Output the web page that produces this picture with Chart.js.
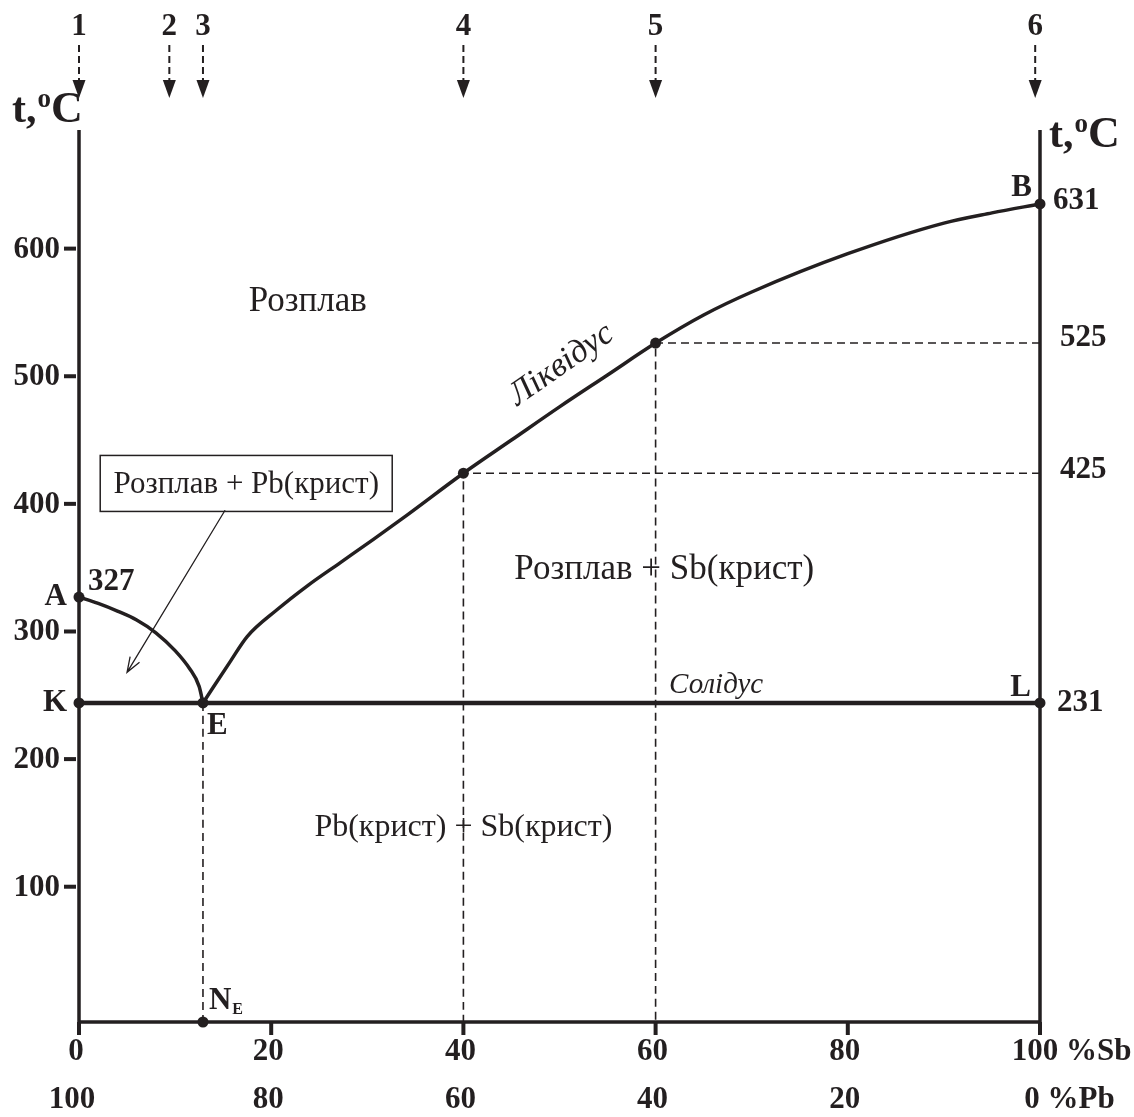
<!DOCTYPE html>
<html>
<head>
<meta charset="utf-8">
<title>Діаграма стану Pb–Sb</title>
<script src="https://cdn.jsdelivr.net/npm/chart.js@4.4.1/dist/chart.umd.min.js"></script>
<style>
  html, body { margin: 0; padding: 0; background: #fff; }
  #wrap { width: 1134px; height: 1117px; }
</style>
</head>
<body>
<div id="wrap"><canvas id="diagram" width="1134" height="1117"></canvas></div>
<script>
// axis ticks
const sbTicks = [0, 20, 40, 60, 80, 100];     // % Sb
const pbTicks = [100, 80, 60, 40, 20, 0];     // % Pb
const tempTicks = [100, 200, 300, 400, 500, 600];

// liquidus A-E (Pb side)
const liqAE_x = [0, 2, 4, 6, 8, 10, 11.5, 12.5, 12.9];
const liqAE_t = [327, 322, 316, 309, 299, 285, 271, 257, 244];

// liquidus E-B (Sb side)
const liqEB_x = [12.9, 15.7, 17.5, 20.6, 23.8, 27.2, 30.6, 34.1, 40, 45, 50, 55, 60, 65, 70, 80, 90, 95, 100];
const liqEB_t = [244, 276, 296, 317, 336, 354, 372, 391, 424, 450, 476, 501, 526, 548, 566, 596, 620, 628, 635];

// solidus K-L
const solidus_x = [0, 100];
const solidus_t = [244, 244];

// key points on the diagram
const point_x = [0, 0, 12.9, 100, 100, 12.9, 40, 60];
const point_t = [327, 244, 244, 635, 244, -6, 424, 526];

// alloys 1..6 (arrows on top)
const alloyNames = ['1', '2', '3', '4', '5', '6'];
const alloy_x = [0, 9.4, 12.9, 40, 60, 99.5];

const tMin = -6, tMax = 700, axisTop = 693;
const INK = '#231f20';
const SERIF = '"Liberation Serif", "Times New Roman", serif';

const toXY = (xs, ys) => xs.map((v, i) => ({ x: v, y: ys[i] }));

function lineSet(data, width, dash, mode) {
    return {
        data: data,
        borderColor: INK,
        borderWidth: width,
        borderDash: dash || [],
        pointRadius: 0,
        fill: false,
        clip: false,
        cubicInterpolationMode: mode || 'monotone'
    };
}

function text(ctx, str, x, y, font, align) {
    ctx.font = font;
    ctx.textAlign = align || 'center';
    ctx.textBaseline = 'middle';
    ctx.fillText(str, x, y);
}

function drawTUnit(ctx, x, base) {
    ctx.textBaseline = 'alphabetic';
    ctx.textAlign = 'left';
    ctx.font = 'bold 42px ' + SERIF;
    ctx.fillText('t,', x, base);
    let w = ctx.measureText('t,').width;
    ctx.font = 'bold 27px ' + SERIF;
    ctx.fillText('o', x + w + 1, base - 15);
    let w2 = ctx.measureText('o').width;
    ctx.font = 'bold 44px ' + SERIF;
    ctx.fillText('C', x + w + w2 + 1, base);
}

const decor = {
    id: 'decor',
    beforeDatasetsDraw(chart) {
        const { ctx, scales: { x, y } } = chart;
        const X = v => x.getPixelForValue(v), Y = v => y.getPixelForValue(v);
        ctx.save();
        ctx.strokeStyle = INK;
        // frame: two temperature axes + composition axis
        ctx.lineWidth = 3.5;
        ctx.beginPath();
        ctx.moveTo(X(0), Y(axisTop));
        ctx.lineTo(X(0), Y(tMin));
        ctx.lineTo(X(100), Y(tMin));
        ctx.lineTo(X(100), Y(axisTop));
        ctx.stroke();
        // ticks
        ctx.lineWidth = 4;
        tempTicks.forEach(t => {
            ctx.beginPath();
            ctx.moveTo(X(0) - 15, Y(t));
            ctx.lineTo(X(0) - 3, Y(t));
            ctx.stroke();
        });
        sbTicks.forEach(s => {
            ctx.beginPath();
            ctx.moveTo(X(s), Y(tMin));
            ctx.lineTo(X(s), Y(tMin) + 13);
            ctx.stroke();
        });
        ctx.restore();
    },
    afterDraw(chart) {
        const { ctx, scales: { x, y } } = chart;
        const X = v => x.getPixelForValue(v), Y = v => y.getPixelForValue(v);
        const bold = 'bold 31px ' + SERIF;
        ctx.save();
        ctx.fillStyle = INK;
        ctx.strokeStyle = INK;

        // temperature tick labels
        tempTicks.forEach(t => text(ctx, String(t), X(0) - 19, Y(t) + 1, bold, 'right'));

        // composition labels (two rows: % Sb and % Pb)
        sbTicks.forEach((s, i) => {
            const shift = s === 100 ? -5 : (s === 0 ? -3 : -3);
            text(ctx, String(s), X(s) + shift, Y(tMin) + 30, bold, 'center');
            const shift2 = i === 0 ? -7 : (i === 5 ? -8 : -3);
            text(ctx, String(pbTicks[i]), X(s) + shift2, Y(tMin) + 78, bold, 'center');
        });
        ctx.font = bold;
        let wSb = ctx.measureText('100').width / 2, wPb = ctx.measureText('0').width / 2;
        text(ctx, ' %Sb', X(100) - 5 + wSb, Y(tMin) + 30, bold, 'left');
        text(ctx, ' %Pb', X(100) - 8 + wPb, Y(tMin) + 78, bold, 'left');

        // axis titles
        drawTUnit(ctx, X(0) - 67, Y(axisTop) - 8);
        drawTUnit(ctx, X(100) + 9, Y(axisTop) + 17);

        // alloy arrows
        alloy_x.forEach((a, i) => {
            const px = X(a);
            ctx.lineWidth = 2;
            ctx.setLineDash([7, 4]);
            ctx.beginPath();
            ctx.moveTo(px, 45);
            ctx.lineTo(px, 82);
            ctx.stroke();
            ctx.setLineDash([]);
            ctx.beginPath();
            ctx.moveTo(px - 6.5, 80);
            ctx.lineTo(px + 6.5, 80);
            ctx.lineTo(px, 98);
            ctx.closePath();
            ctx.fill();
            text(ctx, alloyNames[i], px, 27, bold, 'center');
        });

        // point letters and temperatures
        text(ctx, 'A', X(0) - 12, Y(327), bold, 'right');
        text(ctx, '327', X(0) + 9, Y(327) - 15, bold, 'left');
        text(ctx, 'K', X(0) - 12, Y(244), bold, 'right');
        text(ctx, 'E', X(12.9) + 4, Y(244) + 23, bold, 'left');
        text(ctx, 'B', X(100) - 8, Y(635) - 16, bold, 'right');
        text(ctx, '631', X(100) + 13, Y(635) - 3, bold, 'left');
        text(ctx, 'L', X(100) - 9, Y(244) - 15, bold, 'right');
        text(ctx, '231', X(100) + 17, Y(244), bold, 'left');
        text(ctx, '525', X(100) + 20, Y(526) - 5, bold, 'left');
        text(ctx, '425', X(100) + 20, Y(424) - 3, bold, 'left');
        ctx.font = bold;
        ctx.textAlign = 'left';
        ctx.textBaseline = 'alphabetic';
        ctx.fillText('N', X(12.9) + 6, Y(tMin) - 13);
        let wN = ctx.measureText('N').width;
        ctx.font = 'bold 16px ' + SERIF;
        ctx.fillText('E', X(12.9) + 7 + wN, Y(tMin) - 8);

        // phase regions
        text(ctx, 'Розплав', X(23.8), Y(558), '35px ' + SERIF, 'center');
        text(ctx, 'Розплав + Sb(крист)', X(60.9), Y(348), '35px ' + SERIF, 'center');
        text(ctx, 'Pb(крист) + Sb(крист)', X(40), Y(146), '32px ' + SERIF, 'center');

        // boxed label with leader arrow
        const bx = X(17.4), by = Y(416);
        ctx.fillStyle = '#fff';
        ctx.fillRect(bx - 146, by - 28, 292, 56);
        ctx.fillStyle = INK;
        ctx.lineWidth = 1.5;
        ctx.strokeRect(bx - 146, by - 28, 292, 56);
        text(ctx, 'Розплав + Pb(крист)', bx, by + 1, '31px ' + SERIF, 'center');
        const x1 = X(15.2), y1 = Y(395), x2 = X(5.0), y2 = Y(268);
        ctx.lineWidth = 1.3;
        ctx.beginPath();
        ctx.moveTo(x1, y1);
        ctx.lineTo(x2, y2);
        const ang = Math.atan2(y2 - y1, x2 - x1);
        ctx.moveTo(x2 + 16 * Math.cos(ang + Math.PI - 0.35), y2 + 16 * Math.sin(ang + Math.PI - 0.35));
        ctx.lineTo(x2, y2);
        ctx.lineTo(x2 + 16 * Math.cos(ang + Math.PI + 0.35), y2 + 16 * Math.sin(ang + Math.PI + 0.35));
        ctx.stroke();

        // line names
        ctx.save();
        ctx.translate(X(50.2), Y(509));
        ctx.rotate(-35 * Math.PI / 180);
        text(ctx, 'Ліквідус', 0, 0, 'italic 34px ' + SERIF, 'center');
        ctx.restore();
        text(ctx, 'Солідус', X(66.3), Y(258), 'italic 29px ' + SERIF, 'center');

        ctx.restore();
    }
};

new Chart(document.getElementById('diagram'), {
    type: 'line',
    data: {
        datasets: [
            lineSet(toXY([100, 40, 40], [424, 424, tMin]), 1.6, [8, 5]),
            lineSet(toXY([100, 60, 60], [526, 526, tMin]), 1.6, [8, 5]),
            lineSet(toXY([12.9, 12.9], [244, tMin]), 1.6, [8, 5]),
            lineSet(toXY(liqAE_x, liqAE_t), 3.5),
            lineSet(toXY(liqEB_x, liqEB_t), 3.5),
            lineSet(toXY(solidus_x, solidus_t), 4.5),
            {
                data: toXY(point_x, point_t),
                showLine: false,
                pointRadius: 5.5,
                pointBackgroundColor: INK,
                pointBorderColor: INK,
                pointBorderWidth: 0,
                clip: false
            }
        ]
    },
    options: {
        responsive: false,
        animation: false,
        events: [],
        layout: { padding: { left: 79, right: 94, top: 121, bottom: 95 } },
        plugins: { legend: { display: false }, tooltip: { enabled: false } },
        scales: {
            x: { type: 'linear', min: 0, max: 100, display: false },
            y: { type: 'linear', min: tMin, max: tMax, display: false }
        }
    },
    plugins: [decor]
});
</script>
</body>
</html>
